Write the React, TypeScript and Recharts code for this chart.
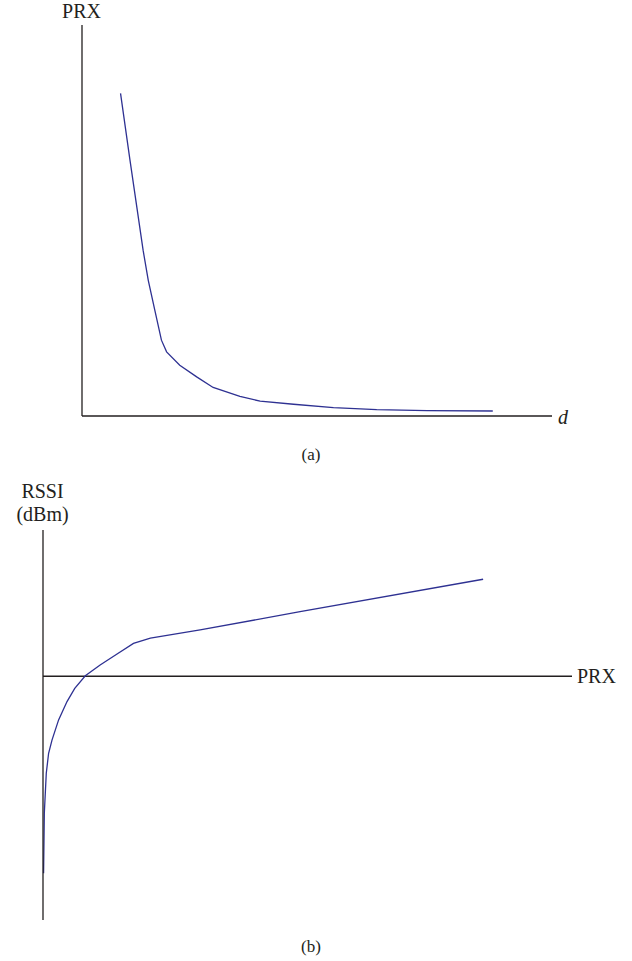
import { Label, Line, LineChart, ReferenceLine, XAxis, YAxis } from "recharts";

// (a) received power vs distance
const distance = [8.2, 10.2, 13.0, 14.1, 15.5, 16.9, 18.0, 20.8, 24.4, 27.9, 33.6, 37.9, 45.0, 53.5, 62.7, 73.4, 87.4];
const prx = [82.5, 65.5, 42.4, 34.7, 27.0, 19.4, 16.4, 13.0, 10.0, 7.3, 5.0, 3.8, 3.0, 2.15, 1.64, 1.38, 1.28];

// (b) RSSI vs received power
const power = [0.11, 0.25, 0.62, 1.06, 1.7, 2.95, 4.54, 6.0, 8.0, 10.8, 14.0, 17.1, 20.3, 29.7, 48.6, 83.2];
const rssi = [-80.8, -56.2, -39.8, -31.6, -26.2, -17.9, -10.4, -5.0, 0.2, 4.6, 9.1, 13.5, 15.6, 19.0, 26.5, 39.8];

const decay = distance.map((d, i) => ({ d, prx: prx[i] }));
const response = power.map((p, i) => ({ p, rssi: rssi[i] }));

const LINE = "#2e3192";
const AXIS = "#231f20";
const FONT = "Liberation Serif, DejaVu Serif, serif";
const axisLine = { stroke: AXIS, strokeWidth: 1.3 };
const labelStyle = { fontSize: 20, fill: "#231f20", fontFamily: FONT, style: { fontFamily: FONT } };

const caption = (top: number): React.CSSProperties => ({
  position: "absolute",
  left: 0,
  top,
  width: 622,
  textAlign: "center",
  fontSize: 17,
  lineHeight: "17px",
  color: "#231f20",
  fontFamily: FONT,
});

export default function App() {
  return (
    <div
      style={{
        position: "absolute",
        left: 0,
        top: 0,
        width: 632,
        height: 961,
        background: "#fff",
        fontFamily: FONT,
      }}
    >
      <div style={{ position: "absolute", left: 0, top: 0 }}>
        <LineChart width={632} height={480} data={decay} margin={{ top: 25, left: 81, right: 80, bottom: 63 }}>
          <XAxis type="number" dataKey="d" domain={[0, 100]} height={1} tick={false} tickLine={false} axisLine={axisLine}>
            <Label value="d" position="right" offset={6} {...labelStyle} fontStyle="italic" />
          </XAxis>
          <YAxis type="number" domain={[0, 100]} width={1} tick={false} tickLine={false} axisLine={axisLine}>
            <Label value="PRX" position="top" offset={7} {...labelStyle} />
          </YAxis>
          <Line type="linear" dataKey="prx" stroke={LINE} strokeWidth={1.3} dot={false} isAnimationActive={false} />
        </LineChart>
      </div>
      <div style={caption(446)}>(a)</div>

      <div style={{ position: "absolute", left: 0, top: 480 }}>
        <LineChart width={632} height={481} data={response} margin={{ top: 50, left: 42, right: 60, bottom: 41 }}>
          <XAxis type="number" dataKey="p" domain={[0, 100]} hide />
          <YAxis type="number" domain={[-100, 60]} width={1} tick={false} tickLine={false} axisLine={axisLine}>
            <Label value="RSSI" position="top" offset={32} {...labelStyle} />
            <Label value="(dBm)" position="top" offset={9} {...labelStyle} />
          </YAxis>
          <ReferenceLine y={0} stroke={AXIS} strokeWidth={1.3}>
            <Label value="PRX" position="right" offset={5} {...labelStyle} />
          </ReferenceLine>
          <Line type="linear" dataKey="rssi" stroke={LINE} strokeWidth={1.3} dot={false} isAnimationActive={false} />
        </LineChart>
      </div>
      <div style={caption(938)}>(b)</div>
    </div>
  );
}
